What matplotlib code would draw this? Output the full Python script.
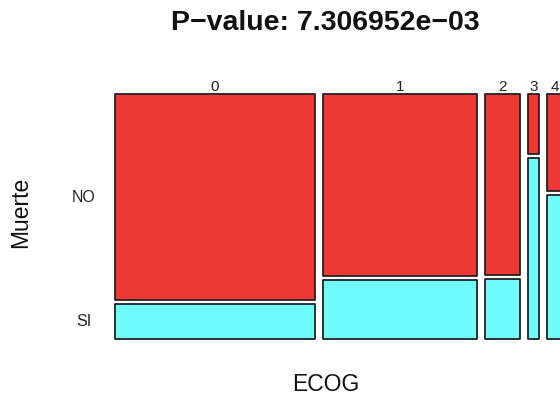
import matplotlib
matplotlib.use("Agg")
import matplotlib.pyplot as plt
from matplotlib.patches import Rectangle
import numpy as np

# mosaic of Muerte by ECOG
ecog = ['0', '1', '2', '3', '4']
muerte_levels = ['NO', 'SI']
muerte_no = [59, 40, 9, 1, 2]
muerte_si = [10, 13, 3, 3, 3]
title = "P\u2212value: 7.306952e\u221203"

plt.rcParams['font.family'] = ['Liberation Sans', 'DejaVu Sans']

W, H = 560, 398
fig = plt.figure(figsize=(W / 100, H / 100), dpi=100)

# plot region in pixels (the last column runs off the right edge, as in the original)
left, top, bottom = 115, 94, 339.3
ax = fig.add_axes([left / W, (H - bottom) / H, (W - left) / W, (bottom - top) / H])
px_per_unit = 2.9
xgap = 8 / px_per_unit
ygap = 4 / (bottom - top)
ax.set_xlim(0, (W - left) / px_per_unit)
ax.set_ylim(0, 1)
ax.axis('off')

red = '#ee3833'
cyan = '#70fcfc'
edge = '#222222'

no = np.array(muerte_no, dtype=float)
si = np.array(muerte_si, dtype=float)
tot = no + si
x0 = np.concatenate([[0], np.cumsum(tot)[:-1]]) + np.arange(len(tot)) * xgap

for i, lab in enumerate(ecog):
    p_si = si[i] / tot[i]
    h_si = (1 - ygap) * p_si
    ax.add_patch(Rectangle((x0[i], 0), tot[i], h_si, facecolor=cyan,
                           edgecolor=edge, linewidth=1.3, joinstyle='round', clip_on=False))
    ax.add_patch(Rectangle((x0[i], h_si + ygap), tot[i], 1 - h_si - ygap, facecolor=red,
                           edgecolor=edge, linewidth=1.3, joinstyle='round', clip_on=False))
    ax.text(x0[i] + tot[i] / 2, 1 + 7 / (bottom - top), lab, ha='center', va='center',
            fontsize=11, color='#222222', clip_on=False)

# row labels next to first column
h0 = (1 - ygap) * si[0] / tot[0]
ax.text(-31 / px_per_unit, (h0 + ygap + 1) / 2, muerte_levels[0], ha='center', va='center',
        fontsize=11.5, color='#222222')
ax.text(-31 / px_per_unit, h0 / 2, muerte_levels[1], ha='center', va='center',
        fontsize=11.5, color='#222222')

fig.text(325.5 / W, 1 - 23 / H, title, ha='center', va='center', fontsize=20.5,
         fontweight='bold', color='#111111')
fig.text(325.5 / W, 1 - 384.5 / H, 'ECOG', ha='center', va='center', fontsize=16.5,
         color='#111111')
fig.text(21 / W, 1 - 212 / H, 'Muerte', ha='center', va='center', fontsize=16.5,
         rotation=90, color='#111111')

fig.savefig('out.png', dpi=100)
